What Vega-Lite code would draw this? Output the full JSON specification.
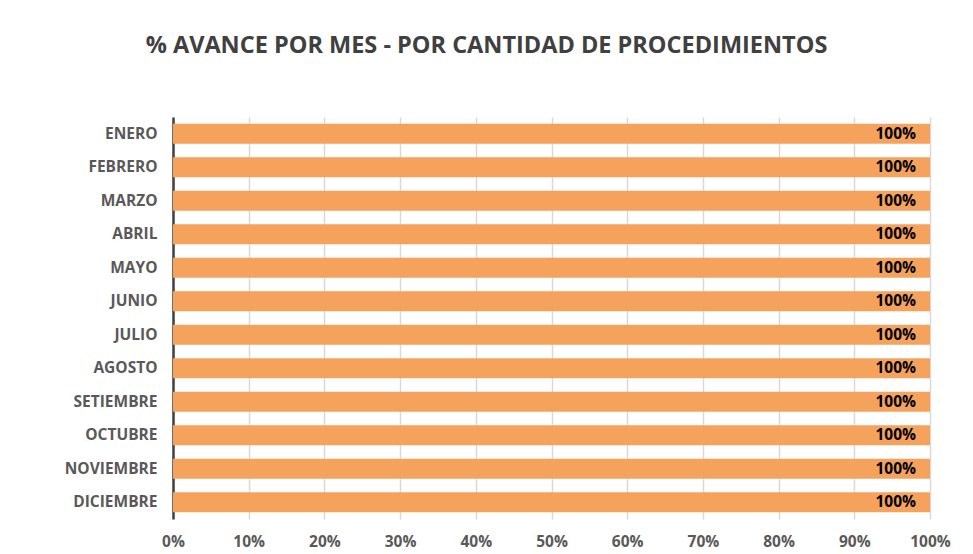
{
  "$schema": "https://vega.github.io/schema/vega-lite/v6.json",
  "width": 757,
  "height": 402,
  "autosize": {"type": "none"},
  "padding": {"left": 173, "top": 117, "right": 43, "bottom": 35},
  "background": "white",
  "title": {
    "text": "% AVANCE POR MES - POR CANTIDAD DE PROCEDIMIENTOS",
    "font": "Open Sans",
    "fontSize": 23.5,
    "fontWeight": "bold",
    "color": "#404040",
    "anchor": "middle",
    "dx": -65,
    "offset": 60
  },
  "data": {
    "values": [
      {"mes": "ENERO", "avance": 1.0},
      {"mes": "FEBRERO", "avance": 1.0},
      {"mes": "MARZO", "avance": 1.0},
      {"mes": "ABRIL", "avance": 1.0},
      {"mes": "MAYO", "avance": 1.0},
      {"mes": "JUNIO", "avance": 1.0},
      {"mes": "JULIO", "avance": 1.0},
      {"mes": "AGOSTO", "avance": 1.0},
      {"mes": "SETIEMBRE", "avance": 1.0},
      {"mes": "OCTUBRE", "avance": 1.0},
      {"mes": "NOVIEMBRE", "avance": 1.0},
      {"mes": "DICIEMBRE", "avance": 1.0}
    ]
  },
  "encoding": {
    "y": {
      "field": "mes",
      "type": "nominal",
      "sort": null,
      "scale": {"paddingInner": 0.4, "paddingOuter": 0.2},
      "axis": {
        "title": null,
        "ticks": false,
        "labelFont": "Open Sans",
        "labelFontSize": 15.5,
        "labelFontWeight": "bold",
        "labelColor": "#595959",
        "labelPadding": 16,
        "domainColor": "#404040",
        "domainWidth": 2.5,
        "grid": false
      }
    },
    "x": {
      "field": "avance",
      "type": "quantitative",
      "scale": {"domain": [0, 1], "nice": false},
      "axis": {
        "title": null,
        "format": ".0%",
        "values": [0, 0.1, 0.2, 0.3, 0.4, 0.5, 0.6, 0.7, 0.8, 0.9, 1.0],
        "labelOverlap": false,
        "ticks": false,
        "domain": false,
        "grid": true,
        "gridColor": "#d9d9d9",
        "gridWidth": 1.5,
        "labelFont": "Open Sans",
        "labelFontSize": 15.5,
        "labelFontWeight": "bold",
        "labelColor": "#595959",
        "labelPadding": 15,
        "labelFlush": false
      }
    }
  },
  "layer": [
    {
      "mark": {"type": "bar", "color": "#F5A25D"}
    },
    {
      "mark": {
        "type": "text",
        "align": "right",
        "baseline": "middle",
        "dx": -14,
        "font": "Open Sans",
        "fontSize": 15.5,
        "fontWeight": "bold",
        "color": "#000000"
      },
      "encoding": {
        "text": {"field": "avance", "type": "quantitative", "format": ".0%"}
      }
    }
  ],
  "config": {
    "view": {"stroke": null}
  }
}
